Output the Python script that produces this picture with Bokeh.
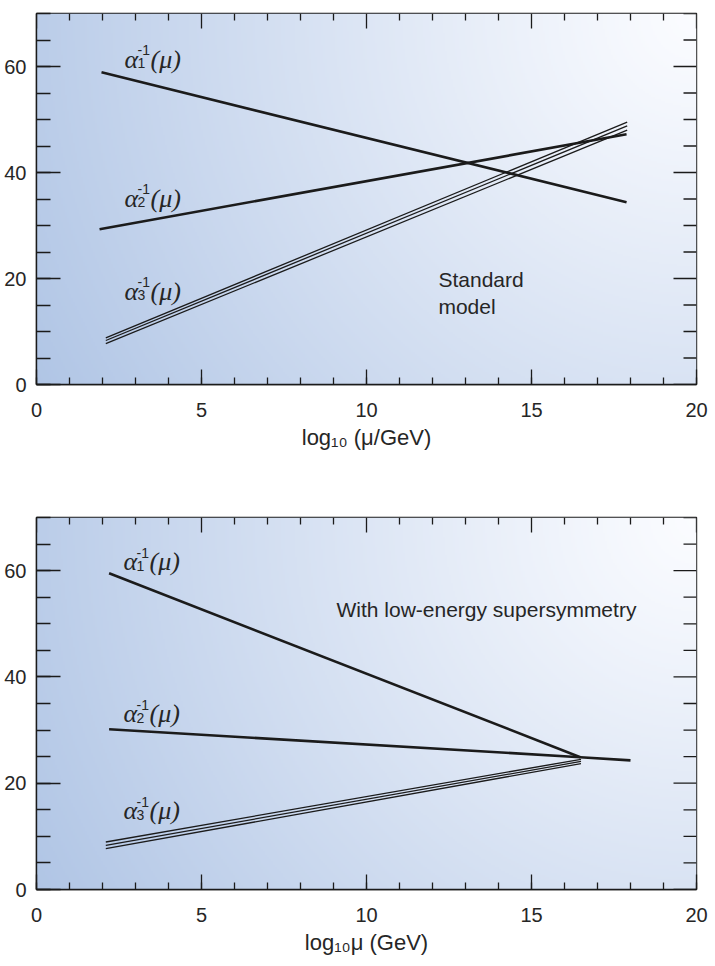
import numpy as np
from bokeh.plotting import figure
from bokeh.layouts import column
from bokeh.models import Range1d, FixedTicker
from bokeh.core.properties import value
from bokeh.embed import file_html
from bokeh.resources import INLINE

# ---------------- data ----------------
x_major_ticks = [0, 5, 10, 15, 20]
x_minor_ticks = list(range(0, 21))
y_major_ticks = [0, 20, 40, 60]
y_minor_ticks = [0, 5, 10, 15, 20, 25, 30, 35, 40, 45, 50, 55, 60, 65, 70]

# Standard model
sm_a1_x = [1.97, 17.88]
sm_a1_y = [58.9, 34.4]
sm_a2_x = [1.91, 17.88]
sm_a2_y = [29.3, 47.2]
sm_a3_x = [2.1, 17.9]
sm_a3_hi = [8.8, 49.5]
sm_a3_mid = [8.3, 48.8]
sm_a3_lo = [7.7, 48.0]

# With low-energy supersymmetry
susy_a1_x = [2.2, 16.48]
susy_a1_y = [59.5, 24.9]
susy_a2_x = [2.2, 16.48, 18.0]
susy_a2_y = [30.15, 24.9, 24.3]
susy_a3_x = [2.1, 16.5]
susy_a3_hi = [8.94, 24.5]
susy_a3_mid = [8.31, 24.1]
susy_a3_lo = [7.68, 23.7]

coupling_subscripts = ["1", "2", "3"]

X_MIN, X_MAX = 0, 20
Y_MIN, Y_MAX = 0, 70

# ---------------- layout / style ----------------
SANS = value("Liberation Sans")
SERIF = value("Liberation Serif")
INK = "#1b1b1b"
TXT = "#262626"

sm_label_x = [2.67, 2.67, 2.67]
sm_label_y = [60.06, 33.8, 16.3]
susy_label_x = [2.64, 2.64, 2.64]
susy_label_y = [60.4, 31.8, 13.5]
LIFT = -7  # screen px


def gradient_image():
    ny, nx = 186, 330
    u = np.linspace(0, 1, nx)[None, :]
    v = np.linspace(0, 1, ny)[:, None]
    d = np.sqrt(((1 - u) * 660) ** 2 + ((1 - v) * 371) ** 2) / np.hypot(660, 371)
    t = np.clip(d, 0, 1) ** 1.1
    dark = np.array([176, 197, 229], dtype=float)
    light = np.array([251, 252, 255], dtype=float)
    rgb = light + (dark - light) * t[..., None]
    img = np.empty((ny, nx), dtype=np.uint32)
    view = img.view(dtype=np.uint8).reshape((ny, nx, 4))
    view[..., :3] = np.round(rgb).astype(np.uint8)
    view[..., 3] = 255
    return img


def style_axis(ax, tick_in, minor_in):
    ax.axis_line_color = INK
    ax.axis_line_width = 1.4
    ax.major_tick_line_color = INK
    ax.minor_tick_line_color = INK
    ax.major_tick_line_width = 1.3
    ax.minor_tick_line_width = 1.3
    ax.major_tick_in = tick_in
    ax.major_tick_out = 0
    ax.minor_tick_in = minor_in
    ax.minor_tick_out = 0
    ax.major_label_text_font = "Liberation Sans"
    ax.major_label_text_font_size = "20px"
    ax.major_label_text_color = TXT


def make_fig(height, border_top, border_bottom, xlabel):
    p = figure(width=715, height=height, output_backend="svg", toolbar_location=None,
               x_range=Range1d(X_MIN, X_MAX), y_range=Range1d(Y_MIN, Y_MAX),
               min_border_left=36, min_border_right=19,
               min_border_top=border_top, min_border_bottom=border_bottom)
    p.xgrid.visible = False
    p.ygrid.visible = False
    p.background_fill_color = "white"
    p.border_fill_color = "white"
    p.outline_line_color = INK
    p.outline_line_width = 1.4

    xt = FixedTicker(ticks=x_major_ticks, minor_ticks=x_minor_ticks)
    yt = FixedTicker(ticks=y_major_ticks, minor_ticks=y_minor_ticks)

    xa = p.xaxis[0]
    xa.ticker = xt
    style_axis(xa, 15, 7)
    xa.major_label_standoff = 18
    xa.axis_label = xlabel
    xa.axis_label_text_font = "Liberation Sans"
    xa.axis_label_text_font_style = "normal"
    xa.axis_label_text_font_size = "22px"
    xa.axis_label_text_color = TXT
    xa.axis_label_standoff = 5

    ya = p.yaxis[0]
    ya.ticker = yt
    style_axis(ya, 24, 14)
    ya.major_label_standoff = 10

    r = p.image_rgba(image=[gradient_image()], x=X_MIN, y=Y_MIN,
                     dw=X_MAX - X_MIN, dh=Y_MAX - Y_MIN)
    r.level = "image"

    # inward ticks on the top and right edges of the frame
    x_minor_only = [t for t in x_minor_ticks if t not in x_major_ticks]
    y_minor_only = [t for t in y_minor_ticks if t not in y_major_ticks]
    p.ray(x=x_major_ticks, y=[Y_MAX] * len(x_major_ticks), length=15, angle=-np.pi / 2,
          length_units="screen", line_color=INK, line_width=1.3)
    p.ray(x=x_minor_only, y=[Y_MAX] * len(x_minor_only), length=7, angle=-np.pi / 2,
          length_units="screen", line_color=INK, line_width=1.3)
    p.ray(x=[X_MAX] * len(y_major_ticks), y=y_major_ticks, length=23, angle=np.pi,
          length_units="screen", line_color=INK, line_width=1.3)
    p.ray(x=[X_MAX] * len(y_minor_only), y=y_minor_only, length=13, angle=np.pi,
          length_units="screen", line_color=INK, line_width=1.3)
    return p


def coupling_labels(p, lx, ly):
    p.text(x=lx, y=ly, text=["α"] * 3, text_font=SERIF, text_font_style="italic",
           text_font_size="26px", y_offset=LIFT, text_baseline="alphabetic",
           text_align="left", text_color=TXT)
    p.text(x=lx, y=ly, text=["-1"] * 3, text_font=SANS, text_font_size="14px",
           x_offset=13, y_offset=LIFT - 9, text_baseline="alphabetic", text_align="left",
           text_color=TXT)
    p.text(x=lx, y=ly, text=coupling_subscripts, text_font=SANS, text_font_size="14px",
           x_offset=13, y_offset=LIFT + 4, text_baseline="alphabetic", text_align="left",
           text_color=TXT)
    p.text(x=lx, y=ly, text=["(μ)"] * 3, text_font=SERIF, text_font_style="italic",
           text_font_size="26px", x_offset=26, y_offset=LIFT, text_baseline="alphabetic",
           text_align="left", text_color=TXT)


# ---------------- top: standard model ----------------
p1 = make_fig(460, 13, 76, "log₁₀ (μ/GeV)")
p1.line(sm_a1_x, sm_a1_y, line_color=INK, line_width=2.6)
p1.line(sm_a2_x, sm_a2_y, line_color=INK, line_width=2.6)
for ys in (sm_a3_hi, sm_a3_mid, sm_a3_lo):
    p1.line(sm_a3_x, ys, line_color=INK, line_width=1.3)
coupling_labels(p1, sm_label_x, sm_label_y)
p1.text(x=[12.18], y=[22.0], text=["Standard\nmodel"], text_font=SANS, text_font_size="21px",
        text_baseline="top", text_align="left", text_line_height=1.2, text_color=TXT)

# ---------------- bottom: supersymmetry ----------------
p2 = make_fig(504, 57, 75, "log₁₀μ (GeV)")
p2.line(susy_a1_x, susy_a1_y, line_color=INK, line_width=2.6)
p2.line(susy_a2_x, susy_a2_y, line_color=INK, line_width=2.6)
for ys in (susy_a3_hi, susy_a3_mid, susy_a3_lo):
    p2.line(susy_a3_x, ys, line_color=INK, line_width=1.3)
coupling_labels(p2, susy_label_x, susy_label_y)
p2.text(x=[9.09], y=[52.6], text=["With low-energy supersymmetry"], text_font=SANS,
        text_font_size="21px", text_baseline="alphabetic", text_align="left", text_color=TXT)

layout = column(p1, p2, spacing=0)
open("out.html", "w").write(file_html(layout, INLINE))
